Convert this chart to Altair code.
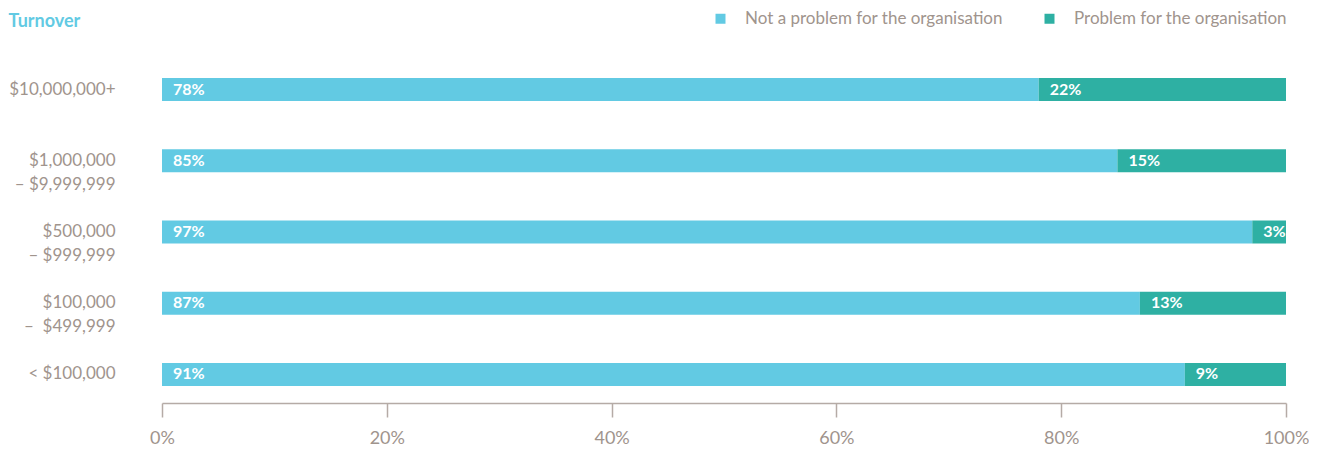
import altair as alt
import pandas as pd

categories = ["$10,000,000+", "$1,000,000|– $9,999,999", "$500,000|– $999,999",
              "$100,000|–\u00a0 $499,999", "< $100,000"]
not_problem = [78, 85, 97, 87, 91]
problem = [22, 15, 3, 13, 9]
series = ["Not a problem for the organisation", "Problem for the organisation"]
colors = ["#62cae3", "#2eb0a3"]
x_ticks = [0, 20, 40, 60, 80, 100]

rows = []
for i, c in enumerate(categories):
    rows.append({"cat": c, "series": series[0], "value": not_problem[i], "ord": 0})
    rows.append({"cat": c, "series": series[1], "value": problem[i], "ord": 1})
df = pd.DataFrame(rows)

FONT = "Lato"
GREY = "#a0948d"

base = alt.Chart(df).transform_stack(
    stack="value", as_=["x0", "x1"], groupby=["cat"], sort=[alt.SortField("ord")]
).transform_calculate(label="datum.value + '%'")

y_enc = alt.Y(
    "cat:N", sort=categories,
    scale=alt.Scale(paddingInner=0.677, paddingOuter=0.2386),
    axis=alt.Axis(
        title="Turnover", titleAngle=0, titleX=-154, titleY=-49, titleAlign="left",
        titleBaseline="top", titleColor="#62cae3", titleFont=FONT, titleFontSize=18,
        titleFontWeight="bold",
        labelExpr="split(datum.label, '|')", labelLineHeight=24,
        labelFont=FONT, labelFontSize=17, labelColor=GREY, labelPadding=47,
        ticks=False, domain=False, minExtent=154, maxExtent=154, labelLimit=200,
    ),
)

bars = base.mark_bar().encode(
    x=alt.X("x0:Q", scale=alt.Scale(domain=[0, 100], nice=False),
            axis=alt.Axis(values=x_ticks, labelExpr="datum.value + '%'", title=None,
                          grid=False, domainColor="#b5aba6", domainWidth=1.5,
                          tickColor="#b5aba6", tickWidth=1.5, tickSize=14,
                          labelFont=FONT, labelFontSize=18, labelColor=GREY,
                          labelPadding=12, labelFlush=False)),
    x2="x1:Q",
    y=y_enc,
    color=alt.Color("series:N", sort=series,
                    scale=alt.Scale(domain=series, range=colors),
                    legend=alt.Legend(title=None, orient="none", legendX=550, legendY=-51,
                                      direction="horizontal", symbolType="square",
                                      symbolSize=100, symbolStrokeWidth=0,
                                      labelFont=FONT, labelFontSize=17, labelColor=GREY,
                                      labelOffset=16, columnPadding=38, padding=0,
                                      labelLimit=400)),
    order=alt.Order("ord:Q"),
)

labels = base.mark_text(align="left", baseline="middle", dx=11, color="white",
                        font=FONT, fontSize=16, fontWeight="bold").encode(
    x="x0:Q",
    y=alt.Y("cat:N", sort=categories),
    text="label:N",
)

chart = alt.layer(bars, labels).properties(
    width=1124, height=342,
    padding={"left": 154, "top": 53, "right": 23, "bottom": 45},
    autosize=alt.AutoSizeParams(type="none"),
).configure_view(stroke=None)

chart.save("out.html", embed_options={"renderer": "svg", "actions": False})
